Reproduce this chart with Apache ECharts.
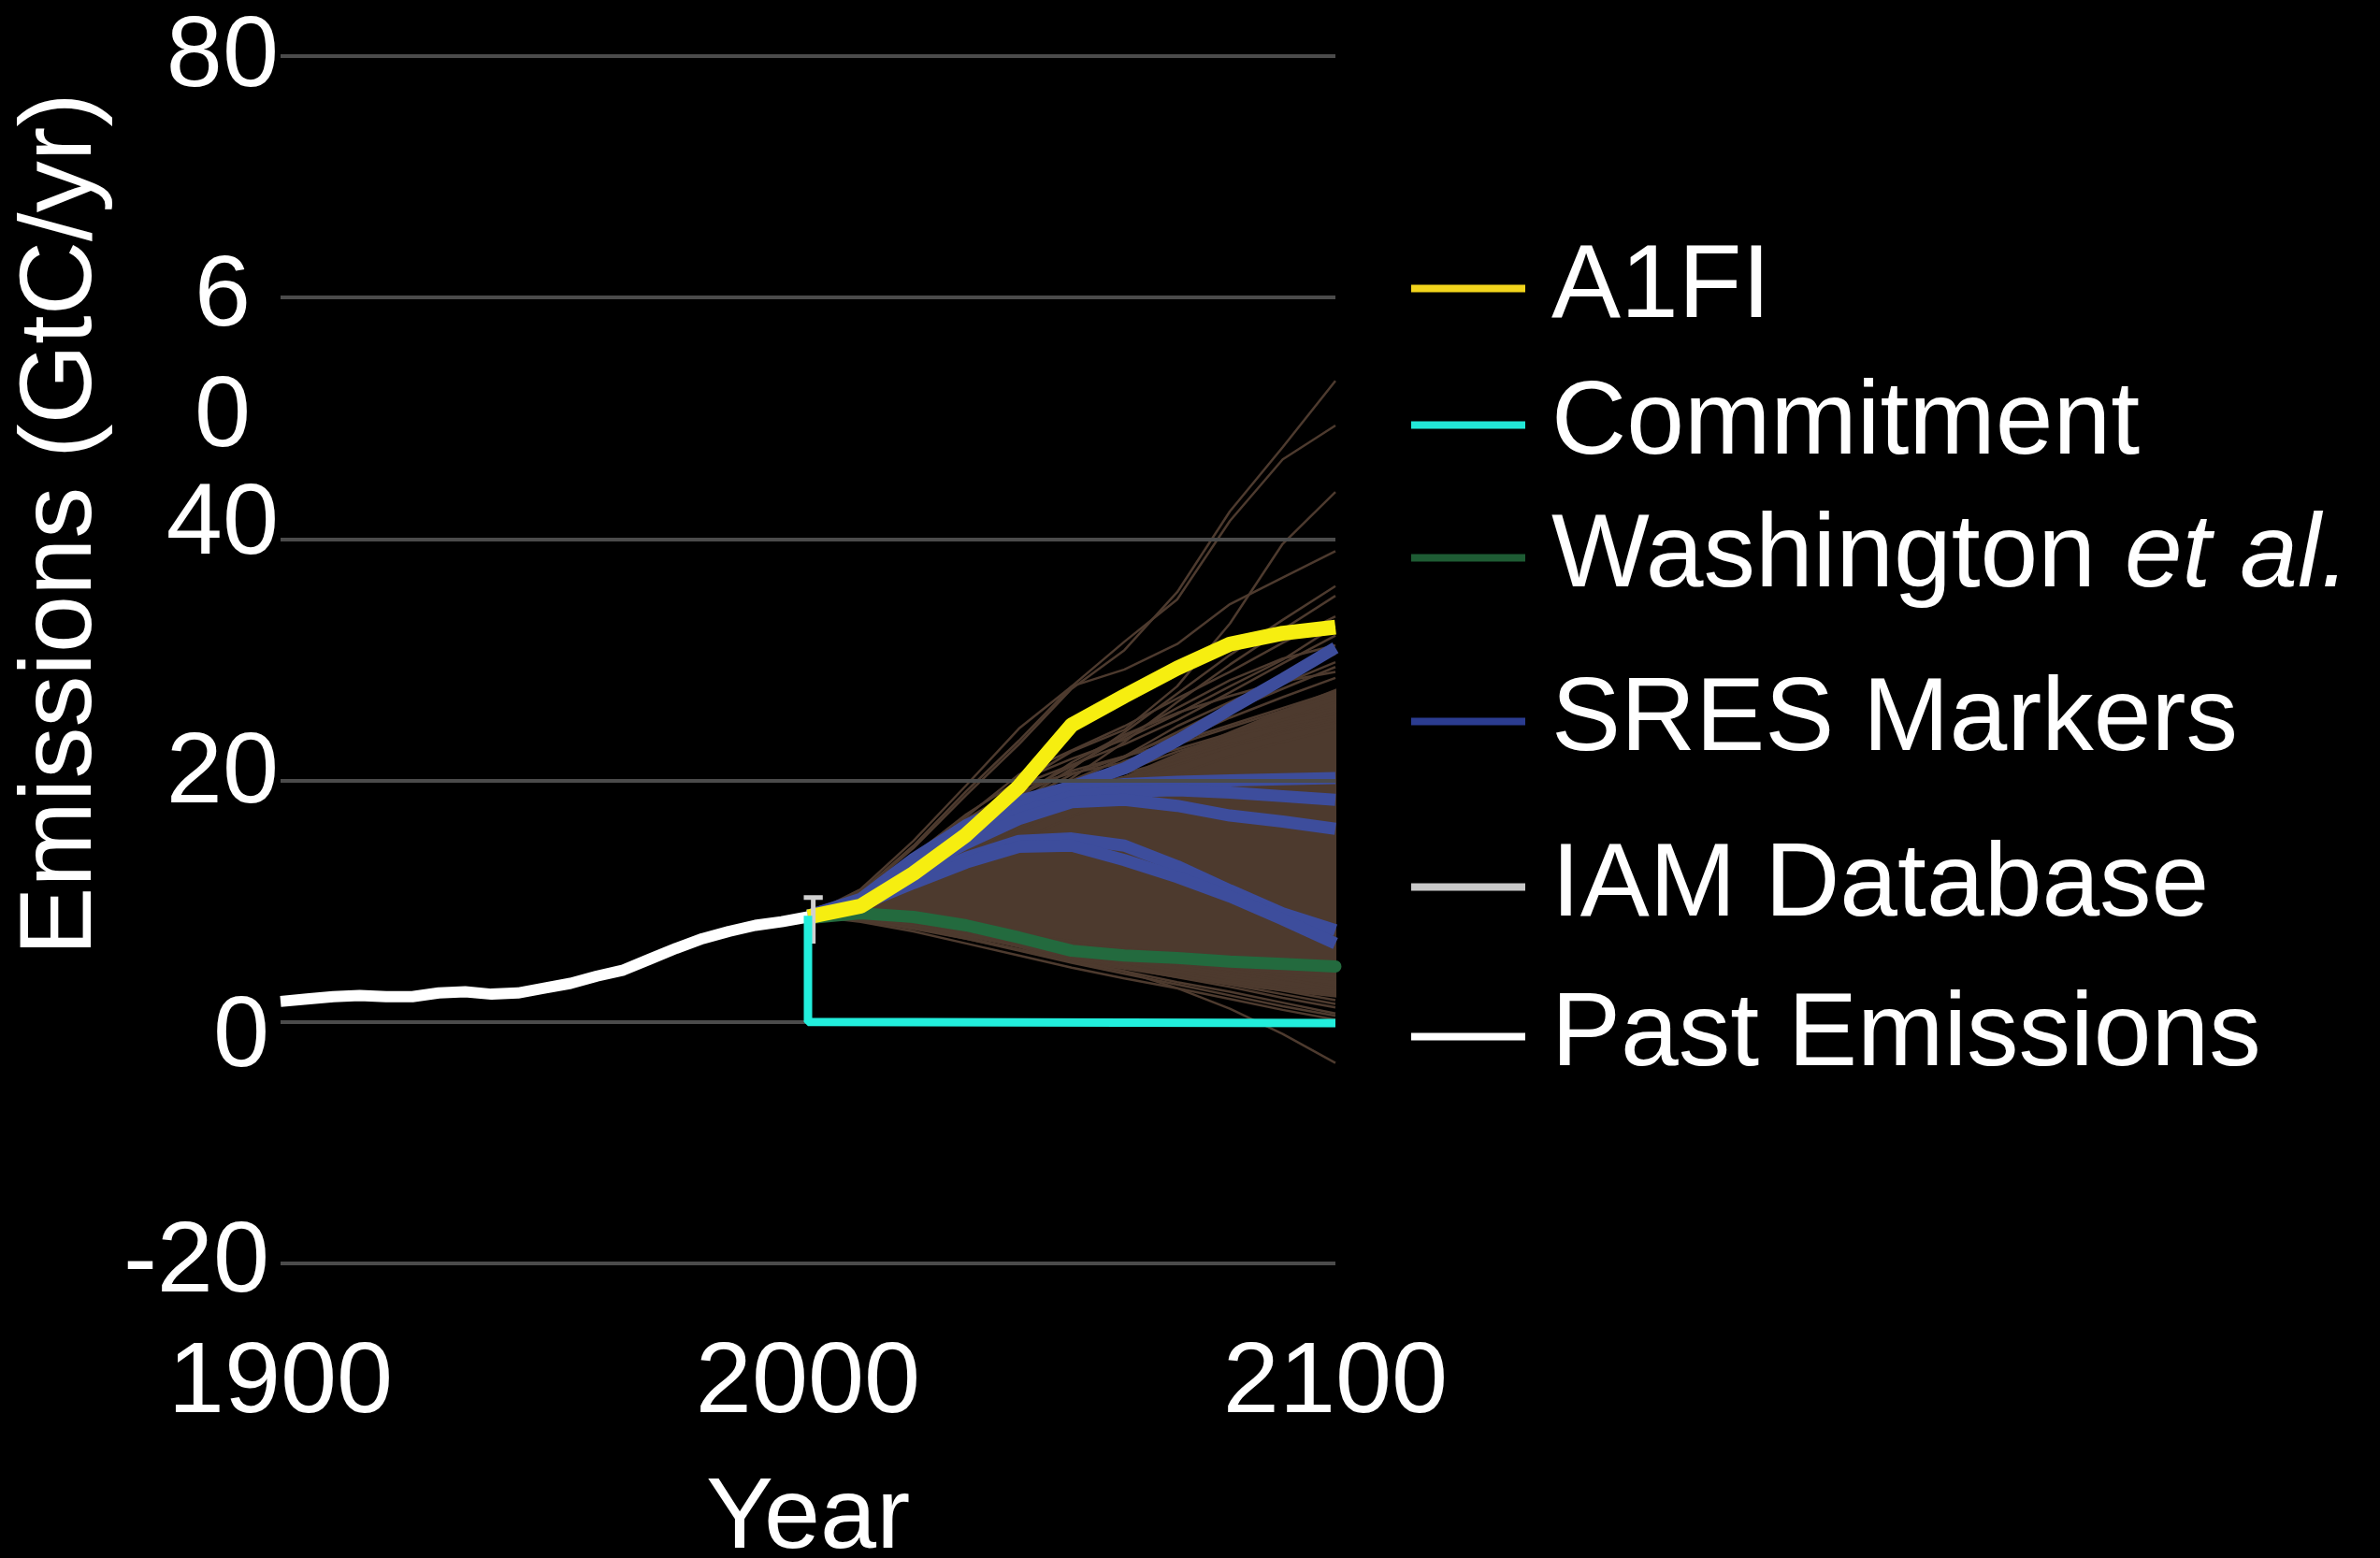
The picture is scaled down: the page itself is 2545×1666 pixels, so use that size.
<!DOCTYPE html>
<html>
<head>
<meta charset="utf-8">
<script src="https://cdn.jsdelivr.net/npm/echarts@6/dist/echarts.min.js"></script>
<style>
html,body{margin:0;padding:0;background:#000;}
#chart{width:2545px;height:1666px;}
</style>
</head>
<body>
<div id="chart"></div>
<script>
// ---------------- DATA ----------------
const xTickLabels = ['1900', '2000', '2100'];
const yTickValues = [-20, 0, 20, 40, 60, 80];
const yTickLabels = ['-20', '0', '20', '40', '6', '80'];
const yExtraTickValues = [50];
const yExtraTickLabels = ['0'];

const legendNames = ['A1FI', 'Commitment', 'Washington et al.', 'SRES Markers', 'IAM Database', 'Past Emissions'];

const pastYears = [1900,1905,1910,1915,1920,1925,1930,1935,1940,1945,1950,1955,1960,1965,1970,1975,1980,1985,1990,1995,2000];
const pastValues = [1.7,1.9,2.1,2.2,2.1,2.1,2.4,2.5,2.3,2.4,2.8,3.2,3.8,4.3,5.2,6.1,6.9,7.5,8.0,8.3,8.7];

const errorBarYears = [1999.2, 2002.8, 2001, 2001];
const errorBarValues = [10.3, 10.3, 10.3, 6.5];

const projYears = [2000,2010,2020,2030,2040,2050,2060,2070,2080,2090,2100];

const a1fi = [8.7, 9.6, 12.3, 15.5, 19.5, 24.6, 27.0, 29.3, 31.3, 32.2, 32.7];

const commitYears = [2000, 2000, 2100];
const commitValues = [8.8, 0, -0.1];

const washington = [8.6, 9.0, 8.7, 8.0, 7.0, 5.9, 5.5, 5.3, 5.0, 4.8, 4.6];

const sresA2 = [8.8, 10.2, 13.5, 16.3, 18.3, 19.5, 21.0, 23.3, 25.9, 28.4, 31.0];
const sresB  = [8.8, 10.1, 13.2, 15.8, 17.8, 19.2, 19.7, 19.9, 20.0, 20.1, 20.2];
const sresC  = [8.8, 10.0, 12.9, 15.3, 17.3, 18.7, 19.1, 19.2, 19.0, 18.7, 18.4];
const sresD  = [8.8, 9.9, 12.5, 14.8, 16.8, 18.2, 18.4, 17.9, 17.1, 16.6, 16.0];
const sresE  = [8.8, 9.8, 11.8, 13.6, 15.0, 15.2, 14.6, 12.9, 10.9, 9.0, 7.6];
const sresF  = [8.8, 9.7, 11.5, 13.2, 14.5, 14.6, 13.4, 12.0, 10.4, 8.5, 6.5];

// IAM database: dense core envelope
const iamCoreLower = [8.7, 8.6, 8.1, 7.2, 6.2, 5.0, 4.4, 3.7, 3.1, 2.6, 2.1];
const iamCoreUpper = [8.8, 9.9, 12.0, 14.2, 16.5, 18.6, 20.3, 22.2, 24.0, 25.8, 27.5];

// IAM database: individual scenarios outside the dense core
const iam01 = [8.8, 10.7, 14.4, 18.8, 23.0, 27.6, 30.8, 35.6, 42.3, 47.6, 53.1];
const iam02 = [8.8, 10.8, 14.6, 19.1, 23.3, 27.8, 31.5, 35.0, 41.5, 46.6, 49.4];
const iam03 = [8.8, 10.3, 13.0, 16.5, 19.8, 22.4, 24.2, 27.8, 33.0, 39.6, 43.9];
const iam04 = [8.8, 11.0, 15.0, 19.6, 24.3, 27.8, 29.2, 31.3, 34.6, 36.8, 39.0];
const iam05 = [8.8, 10.2, 12.6, 15.3, 18.2, 21.0, 24.0, 27.2, 30.4, 33.3, 36.1];
const iam06 = [8.8, 10.0, 12.0, 14.5, 17.3, 20.2, 23.2, 26.5, 29.6, 32.5, 35.3];
const iam07 = [8.8, 10.5, 13.5, 17.0, 20.5, 22.5, 24.5, 26.8, 29.0, 31.4, 33.6];
const iam08 = [8.8, 10.4, 13.2, 16.5, 19.6, 21.3, 23.0, 25.0, 27.3, 29.7, 32.0];
const iam09 = [8.8, 10.0, 12.2, 14.8, 17.4, 19.8, 22.0, 24.5, 26.5, 28.5, 30.5];
const iam10 = [8.8, 10.1, 12.4, 15.2, 18.2, 20.5, 22.0, 23.8, 25.8, 27.6, 29.4];
const iam11 = [8.8, 9.9, 11.8, 14.0, 16.3, 18.8, 21.2, 23.3, 25.2, 26.9, 28.5];
const iam12 = [8.8, 10.2, 12.8, 15.8, 18.8, 20.8, 22.0, 23.2, 24.6, 26.0, 27.4];
const iam13 = [8.8, 9.8, 11.5, 13.6, 15.8, 18.0, 20.0, 21.8, 23.5, 25.0, 26.5];
const iam14 = [8.8, 10.0, 12.0, 14.3, 16.7, 18.5, 19.8, 21.3, 22.8, 24.2, 25.6];
const iam15 = [8.8, 10.3, 12.9, 15.5, 17.9, 19.5, 20.6, 21.8, 23.0, 24.0, 25.0];
const iam16 = [8.8, 9.7, 11.2, 13.0, 15.0, 17.0, 18.8, 20.5, 22.0, 23.2, 24.3];
const iam17 = [8.8, 8.4, 7.7, 6.9, 6.0, 5.0, 4.2, 2.8, 1.1, -1.0, -3.4];
const iam18 = [8.8, 8.3, 7.5, 6.5, 5.5, 4.5, 3.6, 2.8, 1.9, 1.0, 0.2];
const iam19 = [8.8, 8.5, 7.9, 7.0, 6.0, 5.0, 4.2, 3.3, 2.5, 1.6, 0.7];
const iam20 = [8.8, 8.6, 8.2, 7.4, 6.4, 5.3, 4.5, 3.7, 2.9, 2.0, 1.2];
const iam21 = [8.8, 8.7, 8.3, 7.6, 6.7, 5.7, 4.9, 4.1, 3.3, 2.6, 1.8];
const iam22 = [8.8, 8.5, 7.8, 7.1, 6.3, 5.6, 4.9, 4.2, 3.6, 3.0, 2.4];
const iam23 = [8.8, 8.8, 8.4, 7.8, 7.0, 6.1, 5.4, 4.7, 4.0, 3.5, 3.0];
const iam24 = [8.8, 8.6, 8.0, 7.3, 6.6, 6.0, 5.4, 4.8, 4.3, 3.9, 3.5];
const iam25 = [8.8, 8.9, 8.6, 8.0, 7.3, 6.5, 5.8, 5.2, 4.7, 4.4, 4.2];
const iam26 = [8.8, 8.7, 8.2, 7.7, 7.2, 6.7, 6.1, 5.6, 5.1, 4.6, 4.0];
const iam27 = [8.8, 10.6, 13.8, 17.2, 20.0, 21.8, 23.4, 25.5, 27.8, 30.0, 32.8];
const iam28 = [8.8, 10.1, 12.6, 15.6, 18.6, 21.5, 23.8, 25.6, 27.0, 28.2, 29.0];
const iam29 = [8.8, 9.9, 11.9, 14.4, 17.0, 19.5, 21.6, 23.0, 24.4, 25.8, 27.0];
const iam30 = [8.8, 10.4, 13.4, 16.8, 19.4, 20.6, 21.5, 22.6, 23.9, 25.0, 26.0];
const iam31 = [8.8, 9.8, 11.6, 13.9, 16.4, 18.9, 20.8, 22.4, 23.7, 24.6, 25.3];
const iam32 = [8.8, 10.0, 12.3, 15.0, 17.6, 19.3, 20.3, 21.5, 22.8, 23.9, 24.8];
const iam33 = [8.8, 10.3, 13.0, 16.0, 18.9, 21.2, 23.6, 26.0, 28.3, 30.1, 31.2];
const iam34 = [8.8, 10.2, 12.7, 15.5, 18.0, 20.0, 21.9, 24.0, 26.2, 28.0, 29.8];
const iam35 = [8.8, 8.6, 8.0, 7.2, 6.3, 5.4, 4.6, 3.9, 3.1, 2.3, 1.5];
const iam36 = [8.8, 8.4, 7.8, 6.9, 5.9, 4.9, 4.0, 3.1, 2.2, 1.3, 0.5];
const iam37 = [8.8, 8.7, 8.4, 7.9, 7.3, 6.5, 5.7, 5.0, 4.3, 3.6, 2.8];

// ---------------- BUILD ----------------
const FONT = 'Liberation Sans, Arial, Helvetica, sans-serif';
const C = {
  yellow: '#f6ee10', cyan: '#22eedc', green: '#236a3e', blue: '#3d4d9c',
  brown: '#4d3a2e', grid: '#4b4b4b', white: '#ffffff', err: '#d0d0d0'
};

function pairs(xs, ys) { return xs.map((x, i) => [x, ys[i]]); }

const iamLines = [iam01,iam02,iam03,iam04,iam05,iam06,iam07,iam08,iam09,iam10,iam11,iam12,iam13,
  iam14,iam15,iam16,iam17,iam18,iam19,iam20,iam21,iam22,iam23,iam24,iam25,iam26,
  iam27,iam28,iam29,iam30,iam31,iam32,iam33,iam34,iam35,iam36,iam37];
const sresLines = [sresA2, sresB, sresC, sresD, sresE, sresF];

const series = [];
// dense core of the IAM database, drawn as a filled band through the axis scales
series.push({
  name: 'IAM Database', type: 'custom', z: 1, silent: true,
  coordinateSystem: 'cartesian2d',
  data: pairs(projYears, iamCoreUpper),
  encode: { x: 0, y: 1 },
  renderItem: function (params, api) {
    if (params.dataIndex !== 0) return null;
    const pts = [];
    projYears.forEach((yr, i) => pts.push(api.coord([yr, iamCoreUpper[i]])));
    for (let i = projYears.length - 1; i >= 0; i--) pts.push(api.coord([projYears[i], iamCoreLower[i]]));
    return { type: 'polygon', shape: { points: pts }, style: { fill: C.brown, stroke: C.brown, lineWidth: 2 } };
  }
});
iamLines.forEach(arr => series.push({
  name: 'IAM Database', type: 'line', z: 2, silent: true,
  data: pairs(projYears, arr), showSymbol: false, symbol: 'none',
  lineStyle: { color: C.brown, width: 2.5 }
}));
series.push({
  name: 'Washington et al.', type: 'line', z: 3, silent: true,
  data: pairs(projYears, washington), showSymbol: false, symbol: 'none',
  lineStyle: { color: C.green, width: 13, cap: 'round' }
});
sresLines.forEach(arr => series.push({
  name: 'SRES Markers', type: 'line', z: 3, silent: true,
  data: pairs(projYears, arr), showSymbol: false, symbol: 'none',
  lineStyle: { color: C.blue, width: 13 }
}));
series.push({
  name: 'A1FI', type: 'line', z: 6, silent: true,
  data: pairs(projYears, a1fi), showSymbol: false, symbol: 'none',
  lineStyle: { color: C.yellow, width: 16 }
});
series.push({
  name: 'Past Emissions', type: 'line', z: 6, silent: true,
  data: pairs(errorBarYears, errorBarValues), showSymbol: false, symbol: 'none',
  lineStyle: { color: C.err, width: 5 }
});
series.push({
  name: 'Past Emissions', type: 'line', z: 7, silent: true,
  data: pairs(pastYears, pastValues), showSymbol: false, symbol: 'none',
  lineStyle: { color: C.white, width: 12 }
});
series.push({
  name: 'Commitment', type: 'line', z: 7, silent: true,
  data: pairs(commitYears, commitValues), showSymbol: false, symbol: 'none',
  lineStyle: { color: C.cyan, width: 9 }
});

const legendLayout = [
  { top: 309, color: '#f2d41c' },
  { top: 455, color: '#22e8d8' },
  { top: 597, color: '#1e5c34' },
  { top: 772, color: '#2b3c90' },
  { top: 949, color: '#c8c8c8' },
  { top: 1109, color: '#ffffff' }
];
const legends = legendNames.map((n, i) => ({
  data: [n],
  left: 1509,
  top: legendLayout[i].top - 56,
  orient: 'vertical',
  icon: 'rect',
  itemWidth: 122,
  itemHeight: 8,
  padding: 0,
  selectedMode: false,
  itemStyle: { color: legendLayout[i].color, borderWidth: 0 },
  lineStyle: { color: legendLayout[i].color },
  formatter: name => name === 'Washington et al.' ? '{n|Washington }{i|et al.}' : '{n|' + name + '}',
  textStyle: {
    color: '#fff', fontSize: 111, fontFamily: FONT,
    rich: {
      n: { color: '#fff', fontSize: 111, fontFamily: FONT, padding: [0, 0, 0, 23] },
      i: { color: '#fff', fontSize: 111, fontFamily: FONT, fontStyle: 'italic' }
    }
  }
}));

const LBL = { color: '#fff', fontSize: 108, fontFamily: FONT };
const yLabelRich = {
  e: Object.assign({}, LBL, { padding: [4, 0, 0, 0] }),
  s: Object.assign({}, LBL, { padding: [0, 30, 0, 0] }),
  u: Object.assign({}, LBL, { padding: [0, 0, 28, 0] }),
  t: Object.assign({}, LBL, { padding: [0, 0, 12, 0] }),
  z: Object.assign({}, LBL, { padding: [34, 10, 0, 0] }),
  m: Object.assign({}, LBL, { padding: [0, 10, 0, 0] })
};
function yStyleKey(v) {
  if (v === 80) return 'e';
  if (v === 60) return 's';
  if (v === 40) return 'u';
  if (v === 20) return 't';
  if (v === 0) return 'z';
  return 'm';
}

const option = {
  backgroundColor: '#000',
  animation: false,
  grid: { left: 300, right: 1117, top: 60, bottom: 315, containLabel: false, outerBoundsMode: 'none' },
  legend: legends,
  xAxis: {
    type: 'value', min: 1900, max: 2100, interval: 100,
    axisLine: { show: false }, axisTick: { show: false }, splitLine: { show: false },
    axisLabel: {
      color: '#fff', fontSize: 108, fontFamily: FONT, margin: 75,
      formatter: v => xTickLabels[Math.round((v - 1900) / 100)] || ''
    },
    name: 'Year', nameLocation: 'middle', nameGap: 220,
    nameTextStyle: { color: '#fff', fontSize: 108, fontFamily: FONT }
  },
  yAxis: [
    {
      type: 'value', min: -20, max: 80, interval: 20, z: 4,
      axisLine: { show: false }, axisTick: { show: false },
      splitLine: { show: true, lineStyle: { color: C.grid, width: 4 } },
      axisLabel: {
        margin: 2, rich: yLabelRich,
        formatter: v => {
          const i = yTickValues.indexOf(v);
          return i < 0 ? '' : '{' + yStyleKey(v) + '|' + yTickLabels[i] + '}';
        }
      },
      name: 'Emissions (GtC/yr)', nameLocation: 'middle', nameGap: 178,
      nameTextStyle: { color: '#fff', fontSize: 110, fontFamily: FONT, padding: [0, 0, 0, 290] }
    },
    {
      type: 'value', min: -20, max: 80, interval: 10, position: 'left',
      axisLine: { show: false }, axisTick: { show: false }, splitLine: { show: false },
      axisLabel: {
        margin: 2, rich: { s: Object.assign({}, LBL, { padding: [0, 30, 0, 0] }) },
        formatter: v => {
          const i = yExtraTickValues.indexOf(v);
          return i < 0 ? '' : '{s|' + yExtraTickLabels[i] + '}';
        }
      }
    }
  ],
  series: series
};

const chart = echarts.init(document.getElementById('chart'), null, { renderer: 'canvas' });
chart.setOption(option);
</script>
</body>
</html>
